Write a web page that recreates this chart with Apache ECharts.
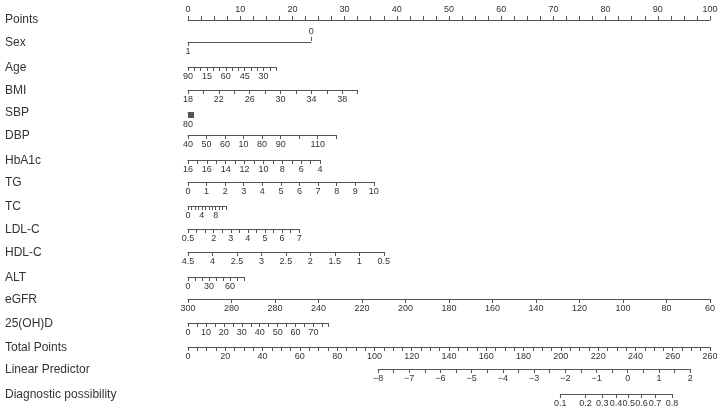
<!DOCTYPE html>
<html>
<head>
<meta charset="utf-8">
<script src="https://cdn.jsdelivr.net/npm/echarts@6/dist/echarts.min.js"></script>
<style>
  html, body { margin: 0; padding: 0; background: #fff; }
  #main { width: 723px; height: 410px; }
</style>
</head>
<body>
<div id="main"></div>
<script>
// tick list helper (inclusive, works both ways)
function seq(a, b, s) {
  var out = [];
  var n = Math.round((b - a) / s);
  for (var i = 0; i <= n; i++) out.push(Math.round((a + i * s) * 1000) / 1000);
  return out;
}

const rowNames = ["Points", "Sex", "Age", "BMI", "SBP", "DBP", "HbA1c", "TG", "TC", "LDL-C",
  "HDL-C", "ALT", "eGFR", "25(OH)D", "Total Points", "Linear Predictor", "Diagnostic possibility"];

// every scale: values at both ends of its line, the points (0-100) where those ends sit,
// tick values, labelled values and the label text as printed
const pointsRange = [0, 100], pointsAt = [0, 100];
const pointsTicks = seq(0, 100, 2.5);
const pointsLabels = seq(0, 100, 10);

const sexRange = [1, 0], sexAt = [0, 23.6];

const ageRange = [90, 20], ageAt = [0, 16.9];
const ageTicks = seq(90, 20, -5);
const ageLabels = [90, 75, 60, 45, 30];
const ageText = ["90", "15", "60", "45", "30"];

const bmiRange = [18, 40], bmiAt = [0, 32.5];
const bmiTicks = seq(18, 40, 2);
const bmiLabels = [18, 22, 26, 30, 34, 38];

const sbpRange = [80, 200], sbpAt = [0, 1];
const sbpTicks = seq(80, 200, 5);
const sbpLabels = [80];

const dbpRange = [40, 120], dbpAt = [0, 28.4];
const dbpTicks = seq(40, 120, 10);
const dbpLabels = [40, 50, 60, 70, 80, 90, 110];
const dbpText = ["40", "50", "60", "10", "80", "90", "110"];

const hba1cRange = [18, 4], hba1cAt = [0, 25.3];
const hba1cTicks = seq(18, 4, -1);
const hba1cLabels = [18, 16, 14, 12, 10, 8, 6, 4];
const hba1cText = ["16", "16", "14", "12", "10", "8", "6", "4"];

const tgRange = [0, 10], tgAt = [0, 35.6];
const tgTicks = seq(0, 10, 1);
const tgLabels = seq(0, 10, 1);

const tcRange = [0, 11], tcAt = [0, 7.3];
const tcTicks = seq(0, 11, 1);
const tcLabels = [0, 4, 8];

const ldlRange = [0.5, 7], ldlAt = [0, 21.3];
const ldlTicks = seq(0.5, 7, 0.5);
const ldlLabels = [0.5, 2, 3, 4, 5, 6, 7];

const hdlRange = [4.5, 0.5], hdlAt = [0, 37.5];
const hdlTicks = seq(4.5, 0.5, -0.5);
const hdlLabels = [4.5, 4, 3.5, 3, 2.5, 2, 1.5, 1, 0.5];
const hdlText = ["4.5", "4", "2.5", "3", "2.5", "2", "1.5", "1", "0.5"];

const altRange = [0, 80], altAt = [0, 10.7];
const altTicks = seq(0, 80, 10);
const altLabels = [0, 30, 60];

const egfrRange = [300, 60], egfrAt = [0, 100];
const egfrTicks = seq(300, 60, -20);
const egfrLabels = seq(300, 60, -20);
const egfrText = ["300", "280", "280", "240", "220", "200", "180", "160", "140", "120", "100", "80", "60"];

const vitdRange = [0, 78], vitdAt = [0, 26.8];
const vitdTicks = seq(0, 75, 5).concat([78]);
const vitdLabels = seq(0, 70, 10);

const totalRange = [0, 280], totalAt = [0, 100];
const totalTicks = seq(0, 280, 5);
const totalLabels = seq(0, 280, 20);
const totalText = ["0", "20", "40", "60", "80", "100", "120", "140", "160", "180", "200", "220", "240", "260", "260"];

const lpRange = [-8, 2], lpAt = [36.4, 96.2];
const lpTicks = seq(-8, 2, 0.5);
const lpLabels = seq(-8, 2, 1);
const lpText = ["\u22128", "\u22127", "\u22126", "\u22125", "\u22124", "\u22123", "\u22122", "\u22121", "0", "1", "2"];

// probability ticks sit on the linear predictor scale
const probRange = [-2.2, 1.39], probAt = [71.3, 92.7];
const probTicks = [-2.2, -1.39, -0.85, -0.41, 0, 0.41, 0.85, 1.39];
const probText = ["0.1", "0.2", "0.3", "0.4", "0.5", "0.6", "0.7", "0.8"];

const rowY = [19, 42, 67, 90, 112, 135, 160, 182, 206, 229, 252, 277, 299, 323, 347, 369, 394];
const lineColor = "#555";
const textColor = "#333";
const fontFamily = '"Liberation Sans", Arial, sans-serif';

var chart = echarts.init(document.getElementById("main"));

// first pass: the Points scale only, to place the other rows on it
chart.setOption({
  grid: [{ left: 188, width: 522, top: rowY[0], height: 1 }],
  xAxis: [{ gridIndex: 0, type: "value", min: 0, max: 100, show: false }],
  yAxis: [{ gridIndex: 0, type: "value", show: false }]
});
function px(p) {
  return chart.convertToPixel({ xAxisIndex: 0 }, p);
}

var scales = [
  { range: pointsRange, at: pointsAt, ticks: pointsTicks, labels: pointsLabels, pos: "top" },
  null, // Sex, built below
  { range: ageRange, at: ageAt, ticks: ageTicks, labels: ageLabels, text: ageText },
  { range: bmiRange, at: bmiAt, ticks: bmiTicks, labels: bmiLabels },
  { range: sbpRange, at: sbpAt, ticks: sbpTicks, labels: sbpLabels, tick: 6, margin: 8 },
  { range: dbpRange, at: dbpAt, ticks: dbpTicks, labels: dbpLabels, text: dbpText },
  { range: hba1cRange, at: hba1cAt, ticks: hba1cTicks, labels: hba1cLabels, text: hba1cText },
  { range: tgRange, at: tgAt, ticks: tgTicks, labels: tgLabels },
  { range: tcRange, at: tcAt, ticks: tcTicks, labels: tcLabels },
  { range: ldlRange, at: ldlAt, ticks: ldlTicks, labels: ldlLabels },
  { range: hdlRange, at: hdlAt, ticks: hdlTicks, labels: hdlLabels, text: hdlText },
  { range: altRange, at: altAt, ticks: altTicks, labels: altLabels },
  { range: egfrRange, at: egfrAt, ticks: egfrTicks, labels: egfrLabels, text: egfrText },
  { range: vitdRange, at: vitdAt, ticks: vitdTicks, labels: vitdLabels },
  { range: totalRange, at: totalAt, ticks: totalTicks, labels: totalLabels, text: totalText },
  { range: lpRange, at: lpAt, ticks: lpTicks, labels: lpLabels, text: lpText },
  { range: probRange, at: probAt, ticks: probTicks, labels: probTicks, text: probText }
];

function axisFor(s, gi, extra) {
  var ax = {
    gridIndex: gi,
    type: "value",
    position: s.pos || "bottom",
    min: Math.min(s.range[0], s.range[1]),
    max: Math.max(s.range[0], s.range[1]),
    inverse: s.range[0] > s.range[1],
    axisLine: { show: true, lineStyle: { color: lineColor, width: 1 } },
    axisTick: { show: true, customValues: s.ticks, length: s.tick || 4, lineStyle: { color: lineColor, width: 1 } },
    axisLabel: {
      show: true,
      customValues: s.labels,
      margin: s.margin || 5,
      fontSize: 9,
      color: textColor,
      fontFamily: fontFamily,
      formatter: function (v) {
        if (!s.text) return String(v);
        var k = s.labels.findIndex(function (x) { return Math.abs(x - v) < 1e-6; });
        return k >= 0 ? s.text[k] : "";
      }
    },
    splitLine: { show: false }
  };
  return Object.assign(ax, extra || {});
}

var grids = [], xAxes = [], yAxes = [];
rowNames.forEach(function (name, i) {
  var at = i === 1 ? sexAt : scales[i].at;
  var left = px(at[0]);
  var right = px(at[1]);
  var isTop = i === 0;
  grids.push({ left: left, width: right - left, top: isTop ? rowY[i] : rowY[i] - 1, height: 1 });
  yAxes.push({ gridIndex: i, type: "value", show: false, min: 0, max: 1 });
  if (i === 1) {
    xAxes.push(axisFor({ range: sexRange, ticks: [1], labels: [1] }, i, { position: "bottom" }));
    xAxes.push(axisFor({ range: sexRange, ticks: [0], labels: [0], pos: "top" }, i, {
      axisLine: { show: false }
    }));
  } else {
    xAxes.push(axisFor(scales[i], i));
  }
});

var option = {
  animation: false,
  grid: grids,
  xAxis: xAxes,
  yAxis: yAxes,
  graphic: rowNames.map(function (name, i) {
    return {
      type: "text",
      x: 5,
      y: rowY[i] + 1,
      style: {
        text: name,
        fill: textColor,
        font: "12px " + fontFamily,
        verticalAlign: "middle"
      }
    };
  })
};

chart.setOption(option, true);
</script>
</body>
</html>
